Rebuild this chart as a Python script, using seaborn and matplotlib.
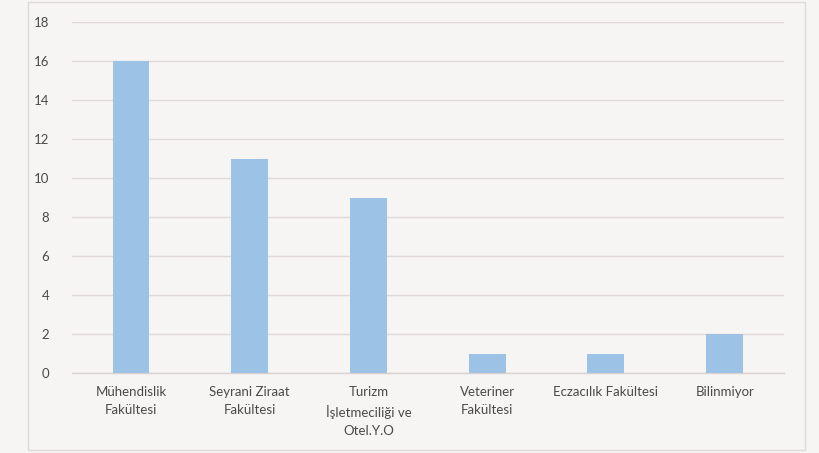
import matplotlib
matplotlib.use("Agg")
import matplotlib.pyplot as plt
import seaborn as sns
import pandas as pd
from matplotlib.patches import Rectangle

categories = ["Mühendislik\nFakültesi", "Seyrani Ziraat\nFakültesi",
              "Turizm\nİşletmeciliği ve\nOtel.Y.O", "Veteriner\nFakültesi",
              "Eczacılık Fakültesi", "Bilinmiyor"]
values = [16, 11, 9, 1, 1, 2]
yticks = [0, 2, 4, 6, 8, 10, 12, 14, 16, 18]

sns.set_theme(style="white")
plt.rcParams['font.family'] = ['Lato', 'DejaVu Sans']

df = pd.DataFrame({"cat": categories, "val": values})

fig = plt.figure(figsize=(8.19, 4.53), dpi=100)
fig.patch.set_facecolor("#f6f5f4")
ax = fig.add_axes([71.6/819, 1-373/453, (784-71.6)/819, (373-22)/453])
ax.set_facecolor("#f6f5f4")

sns.barplot(data=df, x="cat", y="val", color="#9cc2e5", saturation=1,
            width=0.31, ax=ax, zorder=3, linewidth=0)

ax.set_ylim(0, 18)
ax.set_yticks(yticks)
ax.set_yticklabels([str(t) for t in yticks], fontsize=9.5, color="#4a4a4a")
ax.set_xticks(range(len(categories)))
ax.set_xticklabels(categories, fontsize=9.5, color="#4a4a4a", linespacing=1.6)
ax.tick_params(axis="x", length=0, pad=9)
ax.tick_params(axis="y", length=0, pad=16)
ax.set_xlabel("")
ax.set_ylabel("")
ax.yaxis.grid(True, color="#e0d9d6", linewidth=1, zorder=0)
ax.xaxis.grid(False)
for s in ["top", "right", "left"]:
    ax.spines[s].set_visible(False)
ax.spines["bottom"].set_color("#d9d2cf")
ax.spines["bottom"].set_linewidth(1)

fig.add_artist(Rectangle((28/819, 1-450/453), (805-28)/819, (450-2)/453,
                         transform=fig.transFigure, fill=False,
                         edgecolor="#dedad8", linewidth=1))

fig.savefig("out.png", dpi=100, facecolor=fig.get_facecolor())
